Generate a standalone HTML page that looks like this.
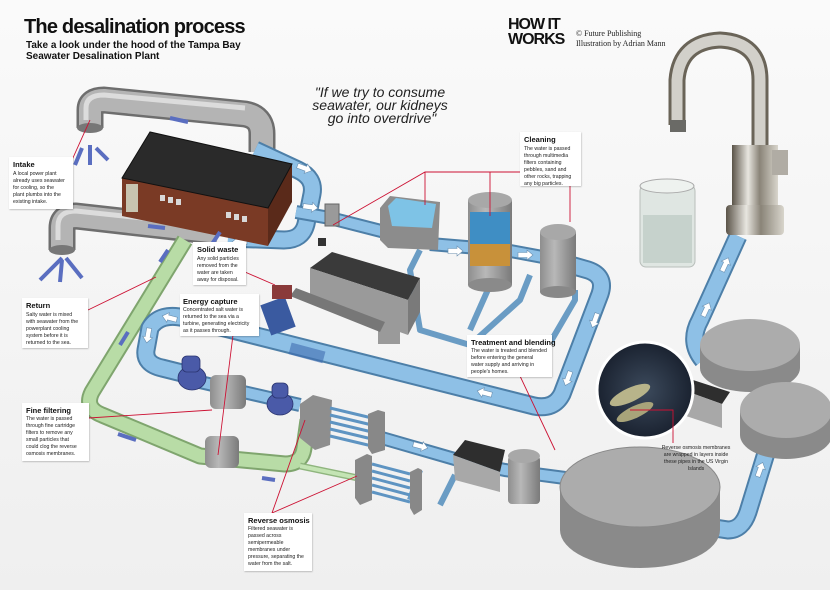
<!DOCTYPE html>
<html><head><meta charset="utf-8"><style>
html,body{margin:0;padding:0;background:#f4f4f4;}
svg{display:block;font-family:"Liberation Sans",sans-serif;}
.t{font-weight:bold;font-size:7.5px;fill:#111}
.b{font-size:5.2px;fill:#222}
.bx{fill:#fff;filter:url(#sh)}
.rl{stroke:#cc1133;stroke-width:0.9;fill:none}
.wa{fill:#fff;stroke:#6a8fb0;stroke-width:0.6}
</style></head><body>
<svg width="830" height="590" viewBox="0 0 830 590" xmlns="http://www.w3.org/2000/svg">
<defs>
<filter id="sh" x="-10%" y="-10%" width="130%" height="130%"><feDropShadow dx="0.5" dy="0.8" stdDeviation="0.8" flood-opacity="0.25"/></filter>
<linearGradient id="bg" x1="0" y1="0" x2="0" y2="1"><stop offset="0" stop-color="#fafafa"/><stop offset="1" stop-color="#efefef"/></linearGradient>
<linearGradient id="cyl" x1="0" y1="0" x2="1" y2="0"><stop offset="0" stop-color="#8e8e8e"/><stop offset="0.4" stop-color="#b8b8b8"/><stop offset="1" stop-color="#7a7a7a"/></linearGradient>
<linearGradient id="chrome" x1="0" y1="0" x2="1" y2="0"><stop offset="0" stop-color="#5a5348"/><stop offset="0.35" stop-color="#e8e6e0"/><stop offset="0.6" stop-color="#8a8478"/><stop offset="1" stop-color="#d8d5cc"/></linearGradient>
<radialGradient id="photo" cx="0.5" cy="0.5" r="0.5"><stop offset="0" stop-color="#3c4a5c"/><stop offset="1" stop-color="#1a2230"/></radialGradient>
<path id="arr" d="M-7,-2.5 L2,-2.5 L2,-5 L8,0 L2,5 L2,2.5 L-7,2.5 Z"/>
</defs>
<rect width="830" height="590" fill="url(#bg)"/>

<!-- gray intake pipes -->
<g fill="none" stroke-linecap="butt" stroke-linejoin="round">
<path d="M90,128 L90,110 Q90,100 104,100 L245,114 Q262,117 262,134 L262,152" stroke="#6e6e6e" stroke-width="27"/>
<path d="M90,128 L90,110 Q90,100 104,100 L245,114 Q262,117 262,134 L262,152" stroke="#b4b4b4" stroke-width="22"/>
<path d="M86,120 L86,108 Q86,95 104,95 L245,108" stroke="#dcdcdc" stroke-width="5"/>
<path d="M62,250 L62,228 Q62,216 76,216 L218,232" stroke="#6e6e6e" stroke-width="27"/>
<path d="M62,250 L62,228 Q62,216 76,216 L218,232" stroke="#b4b4b4" stroke-width="22"/>
<path d="M58,240 L58,226 Q58,211 76,211 L218,226" stroke="#dcdcdc" stroke-width="5"/>
</g>
<ellipse cx="90" cy="128" rx="13" ry="5" fill="#777"/>
<ellipse cx="62" cy="250" rx="13" ry="5" fill="#777"/>

<!-- green return pipe -->
<g fill="none" stroke-linejoin="round">
<path d="M185,240 L92,392 Q84,408 102,415 L200,456 L285,464 Q302,464 304,448 L308,420" stroke="#7fa56e" stroke-width="17"/>
<path d="M185,240 L92,392 Q84,408 102,415 L200,456 L285,464 Q302,464 304,448 L308,420" stroke="#b8dca6" stroke-width="13"/>
<path d="M300,466 L358,478" stroke="#8fb57e" stroke-width="7"/>
<path d="M300,466 L358,478" stroke="#c4e4b4" stroke-width="4"/>
</g>

<!-- blue pipes -->
<g fill="none" stroke-linejoin="round">
<g stroke="#4d7fa8" stroke-width="19">
<path d="M255,150 L298,170 Q315,178 312,194 L306,224 Q302,240 284,240 L228,238"/>
<path d="M560,262 L588,270 Q606,276 600,294 L562,394 Q554,410 534,406 L185,318 Q160,312 150,328 L146,350 Q144,364 162,368 L190,375"/>
<path d="M703,360 Q688,342 700,320 L738,236"/>
<path d="M695,525 L728,530 Q742,530 748,512 L770,440"/>
</g>
<g stroke="#8ec0e6" stroke-width="15">
<path d="M255,150 L298,170 Q315,178 312,194 L306,224 Q302,240 284,240 L228,238"/>
<path d="M560,262 L588,270 Q606,276 600,294 L562,394 Q554,410 534,406 L185,318 Q160,312 150,328 L146,350 Q144,364 162,368 L190,375"/>
<path d="M703,360 Q688,342 700,320 L738,236"/>
<path d="M695,525 L728,530 Q742,530 748,512 L770,440"/>
</g>
<g stroke="#4d7fa8" stroke-width="14">
<path d="M296,212 L330,218 L385,232"/>
<path d="M430,244 L478,248"/><path d="M505,250 L548,258"/>
<path d="M375,436 L465,462 L505,470 L565,478"/>
<path d="M200,382 L300,405"/>
</g>
<g stroke="#8ec0e6" stroke-width="10">
<path d="M296,212 L330,218 L385,232"/>
<path d="M430,244 L478,248"/><path d="M505,250 L548,258"/>
<path d="M375,436 L465,462 L505,470 L565,478"/>
<path d="M200,382 L300,405"/>
</g>
<g stroke="#6a9cc4" stroke-width="6">
<path d="M420,250 L410,270 L420,330 L470,345 L520,300 L530,275"/>
<path d="M490,285 L470,330"/>
<path d="M575,290 L575,300 L540,360"/>
<path d="M420,470 L410,500"/><path d="M455,475 L440,505"/>
</g>
</g>
<rect x="290" y="345" width="35" height="12" fill="#3f6db0" opacity="0.6" transform="rotate(15 300 350)"/>

<!-- white arrows -->
<use href="#arr" class="wa" transform="translate(304,168) rotate(20)"/>
<use href="#arr" class="wa" transform="translate(310,207) rotate(8)"/>
<use href="#arr" class="wa" transform="translate(240,242) rotate(180)"/>
<use href="#arr" class="wa" transform="translate(595,320) rotate(110)"/>
<use href="#arr" class="wa" transform="translate(568,378) rotate(110)"/>
<use href="#arr" class="wa" transform="translate(485,393) rotate(195)"/>
<use href="#arr" class="wa" transform="translate(170,318) rotate(195)"/>
<use href="#arr" class="wa" transform="translate(148,335) rotate(100)"/>
<use href="#arr" class="wa" transform="translate(725,265) rotate(-65)"/>
<use href="#arr" class="wa" transform="translate(706,310) rotate(-65)"/>
<use href="#arr" class="wa" transform="translate(760,470) rotate(-70)"/>
<use href="#arr" class="wa" transform="translate(455,251)"/>
<use href="#arr" class="wa" transform="translate(525,255)"/>
<use href="#arr" class="wa" transform="translate(420,446) rotate(15)"/>

<!-- building -->
<polygon points="122,178 268,208 268,246 122,216" fill="#7a3a25"/>
<polygon points="268,208 292,164 292,202 268,246" fill="#5a2a1a"/>
<polygon points="122,178 150,132 292,164 268,208" fill="#2a2a2a" stroke="#111"/>
<rect x="126" y="184" width="12" height="28" fill="#c8c4b0"/>
<g fill="#d8d8d8"><rect x="160" y="195" width="5" height="6"/><rect x="168" y="197" width="5" height="6"/><rect x="176" y="199" width="5" height="6"/><rect x="226" y="212" width="5" height="6"/><rect x="234" y="214" width="5" height="6"/><rect x="242" y="216" width="5" height="6"/></g>

<!-- filter and basin -->
<rect x="325" y="204" width="14" height="22" fill="#9a9a9a" stroke="#666"/>
<rect x="318" y="238" width="8" height="8" fill="#333"/>
<polygon points="380,208 390,196 440,202 438,250 388,248 380,240" fill="#8c8c8c"/>
<polygon points="388,206 396,198 436,204 432,228 392,226" fill="#7ec3e6"/>
<rect x="468" y="200" width="44" height="85" fill="url(#cyl)"/>
<rect x="470" y="212" width="40" height="32" fill="#3f8ec4"/>
<rect x="470" y="244" width="40" height="22" fill="#c8913a"/>
<ellipse cx="490" cy="200" rx="22" ry="8" fill="#a8a8a8"/>
<ellipse cx="490" cy="285" rx="22" ry="7" fill="#8a8a8a"/>
<rect x="540" y="232" width="36" height="60" fill="url(#cyl)"/>
<ellipse cx="558" cy="232" rx="18" ry="8" fill="#a8a8a8"/>
<ellipse cx="558" cy="292" rx="18" ry="6" fill="#888"/>
<!-- shed -->
<polygon points="310,268 332,252 420,278 408,300" fill="#3a3a3a"/>
<polygon points="310,268 408,300 408,335 310,300" fill="#9a9a9a"/>
<polygon points="408,300 420,278 420,312 408,335" fill="#7a7a7a"/>
<rect x="378" y="318" width="22" height="26" fill="#9a9a9a"/>
<polygon points="290,296 296,288 385,322 380,332" fill="#777"/>
<rect x="265" y="300" width="26" height="32" fill="#3a5aa0" transform="rotate(-20 278 316)"/>
<rect x="272" y="285" width="20" height="14" fill="#8a3a3a"/>

<!-- pumps and cartridges -->
<g fill="#4a5aa8" stroke="#2a3470" stroke-width="0.8">
<ellipse cx="192" cy="378" rx="14" ry="12"/><rect x="182" y="356" width="18" height="16" rx="5"/>
<ellipse cx="280" cy="404" rx="13" ry="11"/><rect x="272" y="383" width="16" height="15" rx="5"/>
<ellipse cx="695" cy="518" rx="14" ry="12"/><rect x="685" y="497" width="18" height="16" rx="5"/>
</g>
<rect x="210" y="375" width="36" height="34" rx="6" fill="url(#cyl)"/>
<rect x="205" y="436" width="34" height="32" rx="6" fill="url(#cyl)"/>

<!-- RO units -->
<polygon points="300,404 313,395 332,400 330,445 315,450 300,438" fill="#8e8e8e"/>
<g stroke="#5e94c2" stroke-width="3"><line x1="330" y1="408" x2="372" y2="418"/><line x1="330" y1="415" x2="372" y2="425"/><line x1="330" y1="422" x2="372" y2="432"/><line x1="330" y1="429" x2="372" y2="439"/><line x1="330" y1="436" x2="372" y2="446"/></g>
<polygon points="368,414 378,410 385,412 385,450 372,454 368,448" fill="#888"/>
<polygon points="355,460 367,454 372,456 372,500 360,505 355,498" fill="#888"/>
<g stroke="#5e94c2" stroke-width="3"><line x1="372" y1="464" x2="410" y2="474"/><line x1="372" y1="471" x2="410" y2="481"/><line x1="372" y1="478" x2="410" y2="488"/><line x1="372" y1="485" x2="410" y2="495"/><line x1="372" y1="492" x2="410" y2="502"/></g>
<polygon points="410,472 418,468 422,470 422,510 414,515 410,508" fill="#888"/>
<polygon points="453,455 465,440 505,450 500,472" fill="#2e2e2e"/>
<polygon points="453,455 500,472 500,492 455,480" fill="#a8a8a8"/>
<rect x="508" y="456" width="32" height="48" rx="4" fill="url(#cyl)"/>
<ellipse cx="524" cy="456" rx="16" ry="7" fill="#a8a8a8"/>
<!-- big tank -->
<path d="M560,487 L560,530 A80,38 0 0 0 720,530 L720,487 Z" fill="#8a8a8a"/>
<ellipse cx="640" cy="487" rx="80" ry="40" fill="#acacac" stroke="#888"/>
<!-- right tanks -->
<path d="M700,345 L700,368 A50,24 0 0 0 800,368 L800,345 Z" fill="#8a8a8a"/>
<ellipse cx="750" cy="345" rx="50" ry="26" fill="#acacac"/>
<polygon points="683,390 693,380 730,392 722,404" fill="#2e2e2e"/>
<polygon points="683,390 722,404 722,428 683,415" fill="#a8a8a8"/>
<path d="M740,410 L740,435 A46,24 0 0 0 832,435 L832,410 Z" fill="#8a8a8a"/>
<ellipse cx="786" cy="410" rx="46" ry="28" fill="#acacac"/>
<circle cx="645" cy="390" r="48" fill="url(#photo)" stroke="#fff" stroke-width="3"/>
<ellipse cx="630" cy="395" rx="22" ry="7" fill="#b8b48a" transform="rotate(-25 630 395)"/>
<ellipse cx="635" cy="412" rx="20" ry="6" fill="#a8a47a" transform="rotate(-25 635 412)"/>
<!-- glass -->
<rect x="640" y="185" width="55" height="82" rx="6" fill="#dfe6e2" stroke="#b8beba"/>
<rect x="643" y="215" width="49" height="48" fill="#c6d2cc"/>
<ellipse cx="667" cy="186" rx="27" ry="7" fill="#eef2ef" stroke="#aaa"/>
<!-- faucet -->
<path d="M677,125 L677,80 Q680,42 720,40 Q760,42 760,80 L760,150" fill="none" stroke="#6a6458" stroke-width="17"/>
<path d="M677,125 L677,80 Q680,42 720,40 Q760,42 760,80 L760,150" fill="none" stroke="#d2d0ca" stroke-width="11"/>
<rect x="670" y="120" width="16" height="12" fill="#6a6a66"/>
<rect x="732" y="145" width="46" height="80" fill="url(#chrome)"/>
<rect x="772" y="150" width="16" height="25" fill="#b0aca4"/>
<rect x="726" y="205" width="58" height="30" rx="4" fill="url(#chrome)"/>

<g stroke="#5a6ec0" stroke-width="4" fill="none">
<path d="M90,165 L90,145"/><path d="M75,165 L82,148"/><path d="M108,160 L96,148"/>
<path d="M62,258 L40,280"/><path d="M62,260 L60,282"/><path d="M66,258 L82,278"/>
<path d="M170,118 L188,122"/><path d="M165,228 L148,226"/>
<path d="M160,262 L168,250"/><path d="M120,345 L128,332"/><path d="M220,232 L212,244"/>
<path d="M275,480 L262,478"/><path d="M136,440 L118,434"/>
</g>

<path class="rl" d="M72,160 L90,120"/>
<path class="rl" d="M88,310 L156,277"/>
<path class="rl" d="M245,272 L275,285"/>
<path class="rl" d="M233,335 L218,455"/>
<path class="rl" d="M89,418 L212,410"/>
<path class="rl" d="M520,172 L425,172 L333,225 M425,172 L425,205 M490,172 L490,216"/>
<path class="rl" d="M570,185 L570,222"/>
<path class="rl" d="M520,376 L555,450"/>
<path class="rl" d="M272,513 L305,420 M272,513 L357,476"/>
<path class="rl" d="M673,443 L673,410 L630,410"/>

<text x="24" y="33" font-size="20" font-weight="bold" fill="#111" letter-spacing="-0.8">The desalination process</text>
<text x="26" y="48" font-size="10" font-weight="bold" fill="#111">Take a look under the hood of the Tampa Bay</text>
<text x="26" y="59" font-size="10" font-weight="bold" fill="#111">Seawater Desalination Plant</text>
<text x="508" y="29" font-size="16" font-weight="900" fill="#111" letter-spacing="-1">HOW IT</text>
<text x="508" y="44" font-size="16" font-weight="900" fill="#111" letter-spacing="-1">WORKS</text>
<text x="576" y="36" font-size="8" font-family="Liberation Serif" fill="#222">© Future Publishing</text>
<text x="576" y="46" font-size="8" font-family="Liberation Serif" fill="#222">Illustration by Adrian Mann</text>
<g font-size="14" font-style="italic" fill="#222" text-anchor="middle">
<text x="380" y="97">"If we try to consume</text>
<text x="380" y="110">seawater, our kidneys</text>
<text x="382" y="123">go into overdrive"</text>
</g>

<rect class="bx" x="9" y="157" width="64" height="52"/>
<text class="t" x="13" y="167">Intake</text>
<text class="b"><tspan x="13" y="175">A local power plant</tspan><tspan x="13" y="182">already uses seawater</tspan><tspan x="13" y="189">for cooling, so the</tspan><tspan x="13" y="196">plant plumbs into the</tspan><tspan x="13" y="203">existing intake.</tspan></text>

<rect class="bx" x="22" y="298" width="66" height="50"/>
<text class="t" x="26" y="308">Return</text>
<text class="b"><tspan x="26" y="316">Salty water is mixed</tspan><tspan x="26" y="323">with seawater from the</tspan><tspan x="26" y="330">powerplant cooling</tspan><tspan x="26" y="337">system before it is</tspan><tspan x="26" y="344">returned to the sea.</tspan></text>

<rect class="bx" x="193" y="242" width="53" height="43"/>
<text class="t" x="197" y="252">Solid waste</text>
<text class="b"><tspan x="197" y="260">Any solid particles</tspan><tspan x="197" y="267">removed from the</tspan><tspan x="197" y="274">water are taken</tspan><tspan x="197" y="281">away for disposal.</tspan></text>

<rect class="bx" x="180" y="294" width="79" height="42"/>
<text class="t" x="183" y="304">Energy capture</text>
<text class="b"><tspan x="183" y="311">Concentrated salt water is</tspan><tspan x="183" y="318">returned to the sea via a</tspan><tspan x="183" y="325">turbine, generating electricity</tspan><tspan x="183" y="332">as it passes through.</tspan></text>

<rect class="bx" x="22" y="403" width="67" height="58"/>
<text class="t" x="26" y="413">Fine filtering</text>
<text class="b"><tspan x="26" y="420">The water is passed</tspan><tspan x="26" y="427">through fine cartridge</tspan><tspan x="26" y="434">filters to remove any</tspan><tspan x="26" y="441">small particles that</tspan><tspan x="26" y="448">could clog the reverse</tspan><tspan x="26" y="455">osmosis membranes.</tspan></text>

<rect class="bx" x="244" y="513" width="68" height="58"/>
<text class="t" x="248" y="523">Reverse osmosis</text>
<text class="b"><tspan x="248" y="530">Filtered seawater is</tspan><tspan x="248" y="537">passed across</tspan><tspan x="248" y="544">semipermeable</tspan><tspan x="248" y="551">membranes under</tspan><tspan x="248" y="558">pressure, separating the</tspan><tspan x="248" y="565">water from the salt.</tspan></text>

<rect class="bx" x="467" y="335" width="85" height="42"/>
<text class="t" x="471" y="345">Treatment and blending</text>
<text class="b"><tspan x="471" y="352">The water is treated and blended</tspan><tspan x="471" y="359">before entering the general</tspan><tspan x="471" y="366">water supply and arriving in</tspan><tspan x="471" y="373">people's homes.</tspan></text>

<rect class="bx" x="520" y="132" width="61" height="54"/>
<text class="t" x="524" y="142">Cleaning</text>
<text class="b"><tspan x="524" y="150">The water is passed</tspan><tspan x="524" y="157">through multimedia</tspan><tspan x="524" y="164">filters containing</tspan><tspan x="524" y="171">pebbles, sand and</tspan><tspan x="524" y="178">other rocks, trapping</tspan><tspan x="524" y="185">any big particles.</tspan></text>

<text class="b" text-anchor="middle"><tspan x="696" y="449">Reverse osmosis membranes</tspan><tspan x="696" y="456">are wrapped in layers inside</tspan><tspan x="696" y="463">these pipes in the US Virgin</tspan><tspan x="696" y="470">Islands</tspan></text>
</svg>
</body></html>
